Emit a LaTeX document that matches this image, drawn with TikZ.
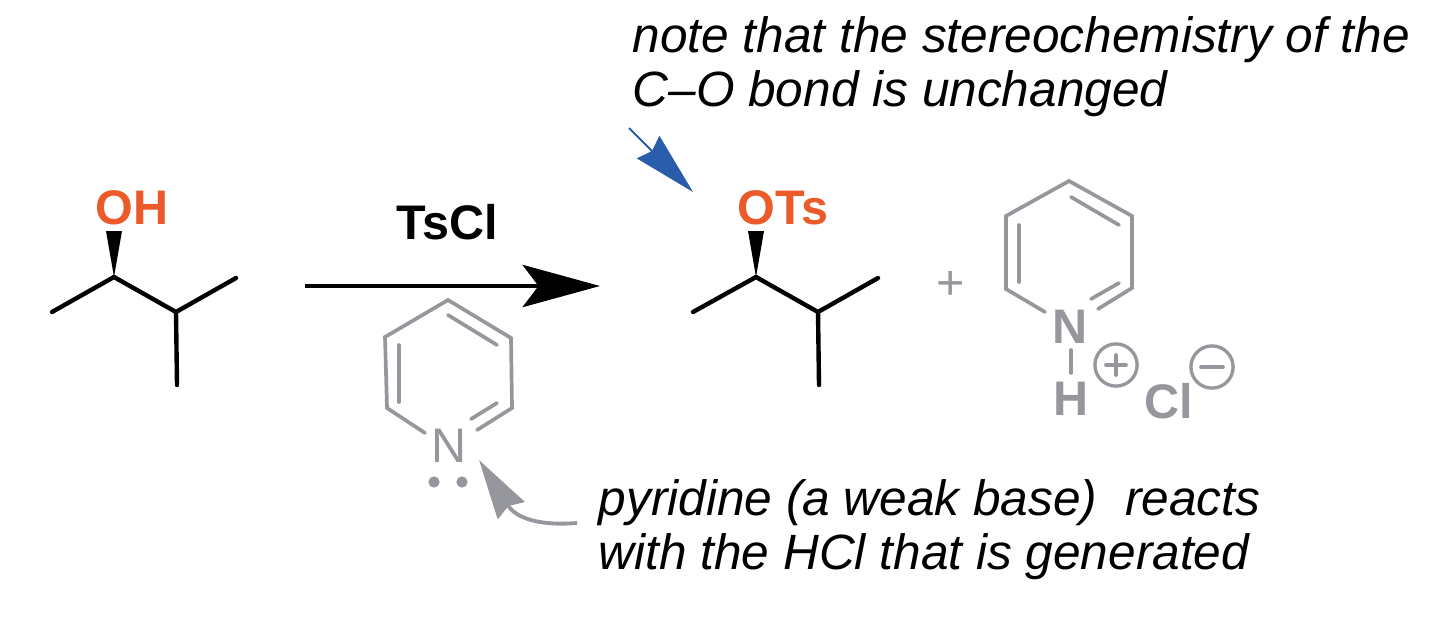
\documentclass[tikz,border=0pt]{standalone}
\usepackage{fontspec}
\setmainfont{Liberation Sans}
\usetikzlibrary{arrows.meta}
\definecolor{leaving}{RGB}{235,90,40}
\definecolor{spectator}{RGB}{150,151,156}
\definecolor{callout}{RGB}{42,92,172}
\tikzstyle{bond} = [line width=1.25pt, draw=black, line cap=round]
\tikzstyle{wedge} = [fill=black, draw=none]
\tikzstyle{graybond} = [line width=1.05pt, draw=spectator, line cap=round]
\tikzstyle{atom} = [inner sep=0pt, font=\fontsize{13.8}{13.8}\selectfont\bfseries, text=leaving]
\tikzstyle{grayatom} = [inner sep=0pt, font=\fontsize{13.8}{13.8}\selectfont, text=spectator]
\tikzstyle{charge} = [circle, draw=spectator, line width=0.95pt, minimum size=12pt, inner sep=0pt]
\tikzstyle{lonepair} = [circle, fill=spectator, inner sep=0pt, minimum size=3.2pt]
\tikzstyle{note} = [inner sep=0pt, anchor=base west, align=left, font=\fontsize{14.1}{15.1}\selectfont\itshape]
\tikzstyle{reaction} = [line width=1.25pt, -{Stealth[length=22pt,width=12pt,inset=4.5pt]}]
\begin{document}
\begin{tikzpicture}[x=0.01cm,y=-0.01cm]
	\useasboundingbox (0,0) rectangle (1440,624);

	% Nodes
	\node (oh) [atom] at (132,208) {OH};
	\node (ots) [atom, anchor=west] at (737,208) {OTs};
	\node (tscl) [atom, text=black] at (447,222) {TsCl};
	\node (plus) [grayatom] at (951,285) {+};
	\node (nfree) [grayatom] at (449,446) {N};
	\node (nplus) [grayatom, font=\fontsize{13.8}{13.8}\selectfont\bfseries] at (1070,327) {N};
	\node (hplus) [grayatom, font=\fontsize{13.8}{13.8}\selectfont\bfseries] at (1071,399) {H};
	\node (chloride) [grayatom, font=\fontsize{13.8}{13.8}\selectfont\bfseries] at (1169,401) {Cl};
	\node (pos) [charge] at (1116,365) {};
	\node (neg) [charge] at (1212,367) {};
	\node (dotl) [lonepair] at (434,482) {};
	\node (dotr) [lonepair] at (462,482) {};
	\node (topnote) [note] at (632,106) {note that the stereochemistry of the\\C--O bond is unchanged};
	\node (botnote) [note] at (598,569) {pyridine (a weak base) \ reacts\\with the HCl that is generated};

	% Alcohol
	\coordinate (a1) at (52,312);
	\coordinate (a2) at (114,277);
	\coordinate (a3) at (176,312);
	\coordinate (a4) at (236,278);
	\coordinate (a5) at (177,385);
	\fill [wedge] (a2) -- (106,231) -- (122,231) -- cycle;
	\draw [bond] (a1) -- (a2) -- (a3) -- (a4);
	\draw [bond] (a3) -- (a5);

	% Tosylate
	\coordinate (b1) at (693,312);
	\coordinate (b2) at (756,277);
	\coordinate (b3) at (818,312);
	\coordinate (b4) at (878,278);
	\coordinate (b5) at (819,385);
	\fill [wedge] (b2) -- (748,231) -- (764,231) -- cycle;
	\draw [bond] (b1) -- (b2) -- (b3) -- (b4);
	\draw [bond] (b3) -- (b5);

	% Pyridine under the arrow
	\coordinate (p1) at (448,300);
	\coordinate (p2) at (511,338);
	\coordinate (p3) at (512,408);
	\coordinate (p4) at (387,408);
	\coordinate (p5) at (385,337);
	\draw [graybond] (425,433) -- (p4) -- (p5) -- (p1) -- (p2) -- (p3) -- (477,430);
	\draw [graybond] (448,315) -- (497,345);
	\draw [graybond] (399,345) -- (399,402);
	\draw [graybond] (497,403) -- (471,419);

	% Pyridinium
	\coordinate (q1) at (1069,181);
	\coordinate (q2) at (1132,216);
	\coordinate (q3) at (1132,288);
	\coordinate (q4) at (1006,289);
	\coordinate (q5) at (1006,216);
	\draw [graybond] (1045,312) -- (q4) -- (q5) -- (q1) -- (q2) -- (q3) -- (1098,309);
	\draw [graybond] (1071,197) -- (1119,225);
	\draw [graybond] (1019,225) -- (1019,282);
	\draw [graybond] (1119,283) -- (1091,299);
	\draw [graybond] (nplus) ++(1,23) -- ++(0,23);
	\draw [graybond] (1106,365) -- (1126,365);
	\draw [graybond] (1116,355) -- (1116,375);
	\draw [graybond] (1201,367) -- (1223,367);

	% Arrows
	\coordinate (start) at (305,286);
	\coordinate (finish) at (600,286);
	\draw [reaction] (start) -- (finish);
	\coordinate (bluetail) at (629,128);
	\coordinate (bluetip) at (693,192);
	\draw [line width=0.6pt, callout, -{Stealth[length=18pt,width=9pt,inset=1.5pt]}] (bluetail) -- (bluetip);
	\coordinate (graytail) at (577,523);
	\coordinate (graytip) at (479,460);
	\draw [line width=1.1pt, spectator, -{Stealth[length=17pt,width=9pt,inset=1.5pt]}] (graytail) .. controls (538,526) and (516,518) .. (graytip);
\end{tikzpicture}
\end{document}
